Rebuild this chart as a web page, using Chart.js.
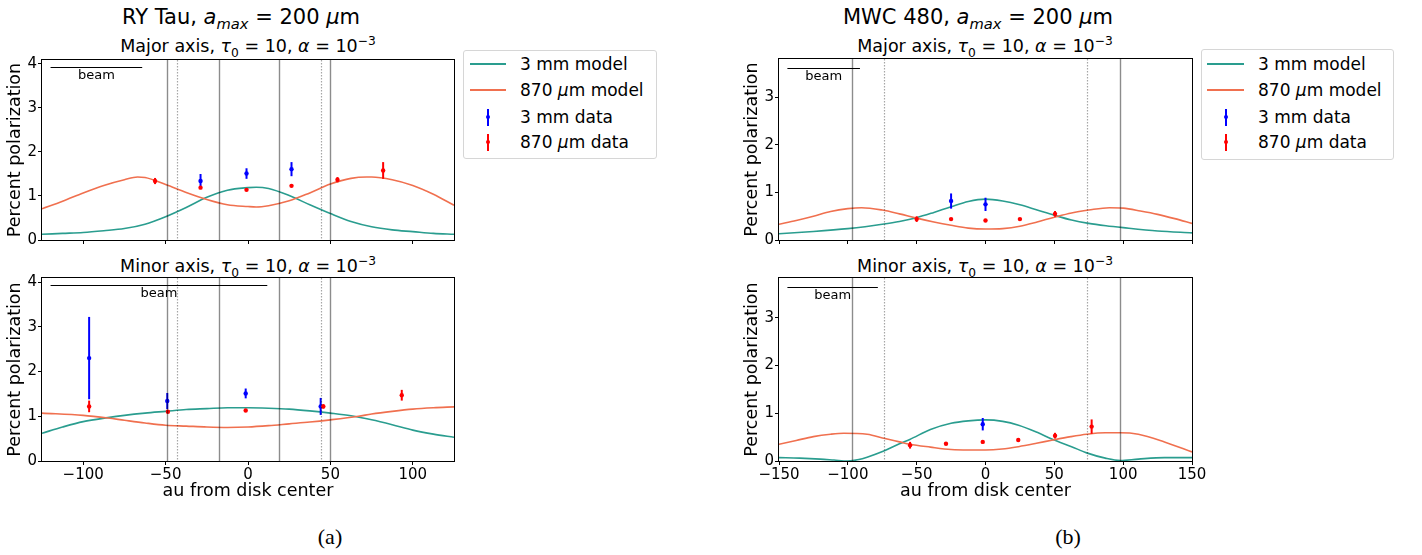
<!DOCTYPE html>
<html>
<head>
<meta charset="utf-8">
<script src="https://cdn.jsdelivr.net/npm/chart.js@4.4.1/dist/chart.umd.min.js"></script>
<style>
  body { margin: 0; width: 1422px; height: 555px; background: #fff; position: relative; overflow: hidden; font-family: "DejaVu Sans", sans-serif; color: #000; }
  canvas { position: absolute; }
  .txt { position: absolute; transform: translate(-50%, -50%); white-space: nowrap; line-height: 1; }
  .main { font-size: 21px; }
  .sub { font-size: 17.5px; }
  .txt sub, .txt sup { font-size: 70%; line-height: 0; }
  .cap { font-family: "Liberation Serif", "DejaVu Serif", serif; font-size: 22px; }
  .legend { position: absolute; border: 1px solid #d6d6d6; border-radius: 3px; background: #fff; font-size: 17px; box-sizing: border-box; }
  .legend .row { position: absolute; left: 0; right: 0; height: 0; }
  .legend .lab { position: absolute; top: 0; transform: translateY(-50%); white-space: nowrap; line-height: 1; }
  .legend .ln { position: absolute; height: 2px; top: -1px; }
  .legend .eb { position: absolute; width: 2px; height: 17px; top: -8px; }
  .legend .dot { position: absolute; width: 4px; height: 4px; border-radius: 2px; top: -2px; }
</style>
</head>
<body>

<div class="txt main" style="left:241px;top:17px">RY Tau, <i>a</i><sub><i>max</i></sub> = 200 <i>μ</i>m</div>
<div class="txt main" style="left:978px;top:17px">MWC 480, <i>a</i><sub><i>max</i></sub> = 200 <i>μ</i>m</div>

<div class="txt sub" style="left:248px;top:47px">Major axis, <i>τ</i><sub>0</sub> = 10, <i>α</i> = 10<sup>−3</sup></div>
<div class="txt sub" style="left:248px;top:267px">Minor axis, <i>τ</i><sub>0</sub> = 10, <i>α</i> = 10<sup>−3</sup></div>
<div class="txt sub" style="left:985px;top:47px">Major axis, <i>τ</i><sub>0</sub> = 10, <i>α</i> = 10<sup>−3</sup></div>
<div class="txt sub" style="left:985px;top:267px">Minor axis, <i>τ</i><sub>0</sub> = 10, <i>α</i> = 10<sup>−3</sup></div>

<canvas id="ryMajor"></canvas>
<canvas id="ryMinor"></canvas>
<canvas id="mwcMajor"></canvas>
<canvas id="mwcMinor"></canvas>

<div class="legend" id="legA" style="left:463px;top:50px;width:194px;height:109px"></div>
<div class="legend" id="legB" style="left:1201px;top:49px;width:193px;height:111px"></div>

<div class="txt cap" style="left:330px;top:537px">(a)</div>
<div class="txt cap" style="left:1068px;top:537px">(b)</div>

<script>
// ---- data ----
const teal = "#2a9d8f";
const orange = "#f0704f";
const blue = "#0000ff";
const red = "#ff0000";

// RY Tau, major axis
const ryMajor3mmModelX = [-125, -112.5, -100, -87.5, -75, -62.5, -50, -37.5, -25, -12.5, 0, 5, 12.5, 25, 37.5, 50, 62.5, 75, 87.5, 100, 112.5, 125];
const ryMajor3mmModel = [0.13, 0.15, 0.17, 0.21, 0.26, 0.36, 0.53, 0.74, 0.97, 1.13, 1.19, 1.2, 1.17, 1.01, 0.8, 0.6, 0.42, 0.3, 0.23, 0.19, 0.15, 0.13];
const ryMajor870ModelX = [-125, -112.5, -100, -87.5, -75, -67, -62.5, -50, -37.5, -25, -12.5, 0, 5, 12.5, 25, 37.5, 50, 62.5, 72, 75, 87.5, 100, 112.5, 125];
const ryMajor870Model = [0.71, 0.88, 1.07, 1.24, 1.37, 1.43, 1.42, 1.26, 1.08, 0.92, 0.8, 0.76, 0.75, 0.78, 0.89, 1.07, 1.27, 1.4, 1.43, 1.43, 1.37, 1.24, 1.04, 0.79];
const ryMajor3mmDataX = [-28.8, -0.9, 26.4];
const ryMajor3mmData = [1.34, 1.51, 1.61];
const ryMajor3mmErr = [0.16, 0.12, 0.16];
const ryMajor870DataX = [-56.4, -28.8, -0.9, 26.4, 54.3, 82];
const ryMajor870Data = [1.34, 1.19, 1.14, 1.23, 1.37, 1.58];
const ryMajor870Err = [0.07, 0.03, 0.02, 0.02, 0.06, 0.19];

// RY Tau, minor axis
const ryMinor3mmModelX = [-125, -112.5, -100, -85, -75, -62.5, -50, -37.5, -25, -12.5, 0, 12.5, 25, 37.5, 50, 62.5, 75, 87.5, 100, 112.5, 125];
const ryMinor3mmModel = [0.62, 0.76, 0.88, 0.97, 1.02, 1.07, 1.11, 1.15, 1.17, 1.19, 1.19, 1.18, 1.16, 1.12, 1.07, 1.01, 0.92, 0.81, 0.69, 0.6, 0.53];
const ryMinor870ModelX = [-125, -100, -85, -75, -62.5, -50, -37.5, -25, -12.5, 0, 12.5, 25, 37.5, 50, 67, 75, 87.5, 100, 112.5, 125];
const ryMinor870Model = [1.07, 1.02, 0.96, 0.91, 0.85, 0.8, 0.78, 0.76, 0.75, 0.76, 0.79, 0.83, 0.87, 0.92, 1.0, 1.05, 1.11, 1.16, 1.19, 1.21];
const ryMinor3mmDataX = [-96.4, -49, -1.4, 44.1];
const ryMinor3mmData = [2.3, 1.34, 1.51, 1.22];
const ryMinor3mmErr = [0.92, 0.18, 0.11, 0.19];
const ryMinor870DataX = [-96.4, -48.6, -1.4, 45.7, 93.3];
const ryMinor870Data = [1.22, 1.1, 1.13, 1.22, 1.47];
const ryMinor870Err = [0.13, 0.03, 0.03, 0.05, 0.12];

// MWC 480, major axis
const mwcMajor3mmModelX = [-150, -125, -100, -87.5, -75, -62.5, -50, -37.5, -25, -12.5, 0, 12.5, 25, 37.5, 50, 62.5, 75, 87.5, 100, 125, 150];
const mwcMajor3mmModel = [0.13, 0.18, 0.24, 0.28, 0.33, 0.39, 0.47, 0.58, 0.7, 0.81, 0.86, 0.82, 0.74, 0.63, 0.52, 0.42, 0.35, 0.3, 0.26, 0.19, 0.15];
const mwcMajor870ModelX = [-150, -137.5, -125, -112.5, -100, -90, -75, -62.5, -50, -37.5, -25, -12.5, 0, 12.5, 25, 37.5, 50, 62.5, 75, 90, 100, 112.5, 125, 137.5, 150];
const mwcMajor870Model = [0.33, 0.41, 0.5, 0.6, 0.66, 0.68, 0.63, 0.55, 0.46, 0.38, 0.31, 0.25, 0.23, 0.24, 0.29, 0.38, 0.48, 0.57, 0.63, 0.68, 0.67, 0.61, 0.54, 0.45, 0.35];
const mwcMajor3mmDataX = [-25, 0];
const mwcMajor3mmData = [0.82, 0.75];
const mwcMajor3mmErr = [0.16, 0.14];
const mwcMajor870DataX = [-50, -25, 0, 25, 50.5];
const mwcMajor870Data = [0.44, 0.44, 0.41, 0.44, 0.55];
const mwcMajor870Err = [0.06, 0.02, 0.02, 0.02, 0.06];

// MWC 480, minor axis
const mwcMinor3mmModelX = [-150, -135, -120, -110, -100, -92, -86, -73, -62.5, -55, -40, -25, -12.5, 0, 12.5, 24, 37.5, 49, 62.5, 73.5, 87, 98, 111, 130, 150];
const mwcMinor3mmModel = [0.07, 0.06, 0.04, 0.02, 0.0, 0.03, 0.08, 0.22, 0.36, 0.45, 0.66, 0.79, 0.84, 0.86, 0.83, 0.75, 0.6, 0.45, 0.3, 0.17, 0.06, 0.01, 0.04, 0.07, 0.07];
const mwcMinor870ModelX = [-150, -137.5, -125, -112.5, -103, -86, -73, -62.5, -55, -40, -25, -12.5, 0, 12, 24, 37, 49, 62, 73.5, 87, 97.7, 111, 130, 150];
const mwcMinor870Model = [0.35, 0.43, 0.51, 0.56, 0.58, 0.56, 0.47, 0.4, 0.35, 0.29, 0.24, 0.23, 0.23, 0.25, 0.3, 0.37, 0.44, 0.51, 0.56, 0.59, 0.59, 0.56, 0.4, 0.19];
const mwcMinor3mmDataX = [-2];
const mwcMinor3mmData = [0.77];
const mwcMinor3mmErr = [0.13];
const mwcMinor870DataX = [-54.8, -28.7, -2, 23.8, 50.5, 77.1];
const mwcMinor870Data = [0.33, 0.36, 0.4, 0.44, 0.53, 0.72];
const mwcMinor870Err = [0.07, 0.02, 0.02, 0.02, 0.06, 0.15];

// reference lines and beam sizes
const rySolidLines = [-49, -17.6, 18.8, 49.8];
const ryDottedLines = [-42.9, 44.1];
const mwcSolidLines = [-97.3, 97.7];
const mwcDottedLines = [-73.5, 73.5];
const ryMajorBeam = [-119.8, -64.2];
const ryMinorBeam = [-119.8, 11.7];
const mwcMajorBeam = [-143.9, -91.2];
const mwcMinorBeam = [-143.9, -78.2];

const ryXTicks = [-100, -50, 0, 50, 100];
const mwcXTicks = [-150, -100, -50, 0, 50, 100, 150];
const ryYTicks = [0, 1, 2, 3, 4];
const mwcYTicks = [0, 1, 2, 3];

// ---- drawing ----
Chart.defaults.font.family = "DejaVu Sans";
Chart.defaults.color = "#000";

const pts = (xs, ys) => xs.map((x, i) => ({ x: x, y: ys[i] }));
const fmt = (v) => (v < 0 ? "\u2212" + Math.abs(v) : String(v));

const extras = {
  id: "extras",
  beforeDatasetDraw(chart, args) {
    const ds = chart.data.datasets[args.index];
    if (!ds.err) return;
    const { ctx, scales: { x, y } } = chart;
    ctx.save();
    ctx.strokeStyle = ds.backgroundColor;
    ctx.lineWidth = 2;
    ds.data.forEach((p, i) => {
      const px = x.getPixelForValue(p.x);
      ctx.beginPath();
      ctx.moveTo(px, y.getPixelForValue(p.y - ds.err[i]));
      ctx.lineTo(px, y.getPixelForValue(p.y + ds.err[i]));
      ctx.stroke();
    });
    ctx.restore();
  },
  afterDatasetsDraw(chart, args, opts) {
    const { ctx, chartArea: a, scales: { x, y } } = chart;
    ctx.save();
    ctx.beginPath();
    ctx.rect(a.left, a.top, a.right - a.left, a.bottom - a.top);
    ctx.clip();
    ctx.lineWidth = 1.4;
    ctx.strokeStyle = "rgba(0,0,0,0.45)";
    opts.solid.forEach((v) => {
      const px = Math.round(x.getPixelForValue(v)) + 0.5;
      ctx.beginPath(); ctx.moveTo(px, a.top); ctx.lineTo(px, a.bottom); ctx.stroke();
    });
    ctx.setLineDash([1.5, 1.5]);
    ctx.lineWidth = 1.2;
    ctx.strokeStyle = "rgba(0,0,0,0.35)";
    opts.dotted.forEach((v) => {
      const px = Math.round(x.getPixelForValue(v)) + 0.5;
      ctx.beginPath(); ctx.moveTo(px, a.top); ctx.lineTo(px, a.bottom); ctx.stroke();
    });
    ctx.setLineDash([]);
    // beam
    const by = Math.round(y.getPixelForValue(opts.beamY)) + 0.5;
    const b0 = x.getPixelForValue(opts.beam[0]);
    const b1 = x.getPixelForValue(opts.beam[1]);
    ctx.strokeStyle = "#000";
    ctx.lineWidth = 1.2;
    ctx.beginPath(); ctx.moveTo(b0, by); ctx.lineTo(b1, by); ctx.stroke();
    ctx.fillStyle = "#000";
    ctx.font = "13px 'DejaVu Sans'";
    ctx.textAlign = "center";
    ctx.textBaseline = "middle";
    ctx.fillText("beam", (b0 + b1) / 2, by + 8);
    ctx.restore();
  },
  afterDraw(chart) {
    const { ctx, chartArea: a } = chart;
    ctx.save();
    ctx.strokeStyle = "#000";
    ctx.lineWidth = 1;
    ctx.strokeRect(Math.round(a.left) - 0.5, Math.round(a.top) - 0.5, Math.round(a.right - a.left) + 1, Math.round(a.bottom - a.top) + 1);
    ctx.restore();
  },
};

function makePanel(p) {
  const yW = 42, padTop = 10, padRight = 20, padBottom = 2;
  const xH = p.labels ? 42 : 6;
  const cv = document.getElementById(p.id);
  const w = yW + (p.r - p.l) + padRight;
  const h = padTop + (p.b - p.t) + xH + padBottom;
  cv.width = w; cv.height = h;
  cv.style.left = (p.l - yW) + "px";
  cv.style.top = (p.t - padTop) + "px";

  new Chart(cv, {
    type: "scatter",
    data: {
      datasets: [
        { label: "3 mm model", data: pts(p.m3x, p.m3), showLine: true, borderColor: teal, borderWidth: 1.6, pointRadius: 0, cubicInterpolationMode: "monotone", order: 4 },
        { label: "870 \u03bcm model", data: pts(p.m8x, p.m8), showLine: true, borderColor: orange, borderWidth: 1.6, pointRadius: 0, cubicInterpolationMode: "monotone", order: 3 },
        { label: "3 mm data", data: pts(p.d3x, p.d3), err: p.e3, backgroundColor: blue, borderWidth: 0, pointRadius: 2.2, order: 2 },
        { label: "870 \u03bcm data", data: pts(p.d8x, p.d8), err: p.e8, backgroundColor: red, borderWidth: 0, pointRadius: 2.2, order: 1 },
      ],
    },
    options: {
      responsive: false,
      animation: false,
      devicePixelRatio: 1,
      layout: { padding: { left: 0, top: padTop, right: padRight, bottom: padBottom } },
      plugins: {
        legend: { display: false },
        tooltip: { enabled: false },
        extras: { solid: p.solid, dotted: p.dotted, beam: p.beam, beamY: p.beamY },
      },
      scales: {
        x: {
          type: "linear",
          min: p.xMin,
          max: p.xMax,
          afterBuildTicks: (s) => { s.ticks = p.xTicks.map((v) => ({ value: v })); },
          afterFit: (s) => { s.height = xH; },
          ticks: { callback: (v) => (p.labels ? fmt(v) : ""), font: { size: 15 }, color: "#000", padding: 1, maxRotation: 0, autoSkip: false },
          grid: { drawOnChartArea: false, drawTicks: true, tickLength: 4, color: "#000" },
          border: { display: false },
          title: { display: p.labels, text: "au from disk center", font: { size: 17.5 }, color: "#000", padding: { top: 0, bottom: 1 } },
        },
        y: {
          type: "linear",
          min: 0,
          max: p.yMax,
          afterBuildTicks: (s) => { s.ticks = p.yTicks.map((v) => ({ value: v })); },
          afterFit: (s) => { s.width = yW; },
          ticks: { callback: (v) => fmt(v), font: { size: 15 }, color: "#000", padding: 1 },
          grid: { drawOnChartArea: false, drawTicks: true, tickLength: 4, color: "#000" },
          border: { display: false },
          title: { display: true, text: "Percent polarization", font: { size: 17.5 }, color: "#000", padding: { top: 5, bottom: 0 } },
        },
      },
    },
    plugins: [extras],
  });
}

makePanel({ id: "ryMajor", l: 42, t: 60, r: 454, b: 242, labels: false, xMin: -125, xMax: 125, yMax: 4.09, xTicks: ryXTicks, yTicks: ryYTicks,
  m3x: ryMajor3mmModelX, m3: ryMajor3mmModel, m8x: ryMajor870ModelX, m8: ryMajor870Model,
  d3x: ryMajor3mmDataX, d3: ryMajor3mmData, e3: ryMajor3mmErr, d8x: ryMajor870DataX, d8: ryMajor870Data, e8: ryMajor870Err,
  solid: rySolidLines, dotted: ryDottedLines, beam: ryMajorBeam, beamY: 3.92 });
makePanel({ id: "ryMinor", l: 42, t: 278, r: 454, b: 461, labels: true, xMin: -125, xMax: 125, yMax: 4.09, xTicks: ryXTicks, yTicks: ryYTicks,
  m3x: ryMinor3mmModelX, m3: ryMinor3mmModel, m8x: ryMinor870ModelX, m8: ryMinor870Model,
  d3x: ryMinor3mmDataX, d3: ryMinor3mmData, e3: ryMinor3mmErr, d8x: ryMinor870DataX, d8: ryMinor870Data, e8: ryMinor870Err,
  solid: rySolidLines, dotted: ryDottedLines, beam: ryMinorBeam, beamY: 3.93 });
makePanel({ id: "mwcMajor", l: 779, t: 59, r: 1192, b: 242, labels: false, xMin: -150, xMax: 150, yMax: 3.81, xTicks: mwcXTicks, yTicks: mwcYTicks,
  m3x: mwcMajor3mmModelX, m3: mwcMajor3mmModel, m8x: mwcMajor870ModelX, m8: mwcMajor870Model,
  d3x: mwcMajor3mmDataX, d3: mwcMajor3mmData, e3: mwcMajor3mmErr, d8x: mwcMajor870DataX, d8: mwcMajor870Data, e8: mwcMajor870Err,
  solid: mwcSolidLines, dotted: mwcDottedLines, beam: mwcMajorBeam, beamY: 3.63 });
makePanel({ id: "mwcMinor", l: 779, t: 278, r: 1192, b: 461, labels: true, xMin: -150, xMax: 150, yMax: 3.83, xTicks: mwcXTicks, yTicks: mwcYTicks,
  m3x: mwcMinor3mmModelX, m3: mwcMinor3mmModel, m8x: mwcMinor870ModelX, m8: mwcMinor870Model,
  d3x: mwcMinor3mmDataX, d3: mwcMinor3mmData, e3: mwcMinor3mmErr, d8x: mwcMinor870DataX, d8: mwcMinor870Data, e8: mwcMinor870Err,
  solid: mwcSolidLines, dotted: mwcDottedLines, beam: mwcMinorBeam, beamY: 3.65 });

// legends
function makeLegend(id, rows, lineX, lineW, ebX, textX) {
  const items = [
    { kind: "line", color: teal, html: "3 mm model" },
    { kind: "line", color: orange, html: "870 <i>\u03bc</i>m model" },
    { kind: "eb", color: blue, html: "3 mm data" },
    { kind: "eb", color: red, html: "870 <i>\u03bc</i>m data" },
  ];
  const el = document.getElementById(id);
  items.forEach((it, i) => {
    const row = document.createElement("div");
    row.className = "row";
    row.style.top = rows[i] + "px";
    let sw = "";
    if (it.kind === "line") {
      sw = `<span class="ln" style="left:${lineX}px;width:${lineW}px;background:${it.color}"></span>`;
    } else {
      sw = `<span class="eb" style="left:${ebX - 1}px;background:${it.color}"></span><span class="dot" style="left:${ebX - 2}px;background:${it.color}"></span>`;
    }
    row.innerHTML = sw + `<span class="lab" style="left:${textX}px">${it.html}</span>`;
    el.appendChild(row);
  });
}
makeLegend("legA", [13, 39, 66, 91], 6, 36, 24, 56);
makeLegend("legB", [14, 40, 67, 92], 5, 37, 24, 56);
</script>
</body>
</html>
